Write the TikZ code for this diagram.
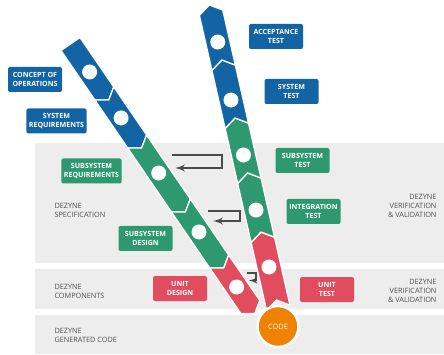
\documentclass[tikz,border=0pt]{standalone}
\usepackage{fontspec}
\setmainfont{Open Sans}
\usetikzlibrary{arrows,positioning}

\definecolor{vblue}{HTML}{1264A4}
\definecolor{vgreen}{HTML}{2E9871}
\definecolor{vred}{HTML}{E14D5F}
\definecolor{vorange}{HTML}{F08200}
\definecolor{bandgray}{HTML}{EDEDED}
\definecolor{textgray}{HTML}{505050}
\definecolor{arrowgray}{HTML}{4A4A4A}

\tikzset{
  box/.style={rounded corners=2pt, text=white, align=center,
    font=\bfseries\fontsize{7.1}{8.6}\selectfont,
    minimum width=54pt, minimum height=25pt, inner xsep=2.5pt},
  stage/.style={text=textgray, font=\fontsize{7.3}{9.2}\selectfont},
  seg/.style={draw=white, line width=1.3pt, line join=miter},
  dot/.style={circle, fill=white, minimum size=15pt, inner sep=0pt},
  fback/.style={->, >=latex', draw=arrowgray, line width=2.4pt}
}

\begin{document}
\begin{tikzpicture}[x=1pt,y=-1pt]
        \useasboundingbox (0,0) rectangle (444,355);
        % bands
        \fill[bandgray] (35,143) rectangle (444,263);
        \fill[bandgray] (35,269) rectangle (444,309);
        \fill[bandgray] (35,315) rectangle (444,354);

        \node[stage, anchor=west, align=left]  (spec)  at (51,210.5)  {DEZYNE\\SPECIFICATION};
        \node[stage, anchor=west, align=left]  (comp)  at (51,291.5)  {DEZYNE\\COMPONENTS};
        \node[stage, anchor=west, align=left]  (gen)   at (51,335.5)  {DEZYNE\\GENERATED CODE};
        \node[stage, anchor=east, align=right] (vv1)   at (440,206)   {DEZYNE\\VERIFICATION\\\& VALIDATION};
        \node[stage, anchor=east, align=right] (vv2)   at (440,291)   {DEZYNE\\VERIFICATION\\\& VALIDATION};

        % labels, left side
        \node[box, fill=vblue]  (conops)  at (35,79.5)   {CONCEPT OF\\OPERATIONS};
        \node[box, fill=vblue]  (sysreq)  at (56.5,121)  {SYSTEM\\REQUIREMENTS};
        \node[box, fill=vgreen] (subreq)  at (91.5,171)  {SUBSYSTEM\\REQUIREMENTS};
        \node[box, fill=vgreen] (subdes)  at (145.5,238.5) {SUBSYSTEM\\DESIGN};
        \node[box, fill=vred]   (unitdes) at (180,288.5) {UNIT\\DESIGN};
        % labels, right side
        \node[box, fill=vblue]  (acctest) at (276,36.5)  {ACCEPTANCE\\TEST};
        \node[box, fill=vblue]  (systest) at (291.5,91.5) {SYSTEM\\TEST};
        \node[box, fill=vgreen] (subtest) at (302.5,160.5) {SUBSYSTEM\\TEST};
        \node[box, fill=vgreen] (inttest) at (313.5,211.5) {INTEGRATION\\TEST};
        \node[box, fill=vred]   (unittest) at (327,289.5) {UNIT\\TEST};

        % left arm, going down
        \begin{scope}[shift={(70.5,44)}, rotate=-55.64]
          \fill[seg, fill=vblue]  (0,11.5) -- (59.8,11.5) -- (67.8,0) -- (59.8,-11.5) -- (0,-11.5) -- cycle;
          \fill[seg, fill=vblue]  (59.8,11.5) -- (118,11.5) -- (126,0) -- (118,-11.5) -- (59.8,-11.5) -- (67.8,0) -- cycle;
          \fill[seg, fill=vgreen] (118,11.5) -- (195.5,11.5) -- (203.5,0) -- (195.5,-11.5) -- (118,-11.5) -- (126,0) -- cycle;
          \fill[seg, fill=vgreen] (195.5,11.5) -- (263.4,11.5) -- (271.4,0) -- (263.4,-11.5) -- (195.5,-11.5) -- (203.5,0) -- cycle;
          \fill[seg, fill=vred]   (263.4,11.5) -- (318.5,11.5) -- (326.5,0) -- (318.5,-11.5) -- (263.4,-11.5) -- (271.4,0) -- cycle;
          \node[dot] (l1) at (33.9,0) {};
          \node[dot] (l2) at (89.6,0) {};
          \node[dot] (l3) at (156.3,0) {};
          \node[dot] (l4) at (227.7,0) {};
          \node[dot] (l5) at (294.4,0) {};
        \end{scope}

        % right arm, going up
        \begin{scope}[shift={(276.5,300)}, rotate=102.83]
          \fill[seg, fill=vred]   (-8,12) -- (61.7,12) -- (69.7,0) -- (61.7,-12) -- (-8,-12) -- (0,0) -- cycle;
          \fill[seg, fill=vgreen] (61.7,12) -- (122.3,12) -- (130.3,0) -- (122.3,-12) -- (61.7,-12) -- (69.7,0) -- cycle;
          \fill[seg, fill=vgreen] (122.3,12) -- (178.7,12) -- (186.7,0) -- (178.7,-12) -- (122.3,-12) -- (130.3,0) -- cycle;
          \fill[seg, fill=vblue]  (178.7,12) -- (238.2,12) -- (246.2,0) -- (238.2,-12) -- (178.7,-12) -- (186.7,0) -- cycle;
          \fill[seg, fill=vblue]  (238.2,12) -- (294.6,12) -- (302.6,0) -- (294.6,-12) -- (238.2,-12) -- (246.2,0) -- cycle;
          \node[dot] (r1) at (33.8,0) {};
          \node[dot] (r2) at (92.3,0) {};
          \node[dot] (r3) at (148.7,0) {};
          \node[dot] (r4) at (205.1,0) {};
          \node[dot] (r5) at (264.6,0) {};
        \end{scope}

        \node[circle, fill=vorange, draw=white, line width=2.5pt, minimum size=41pt,
              text=white, font=\fontsize{7.4}{8}\selectfont] (code) at (278,326.5) {CODE};

        % feedback loops
        \coordinate (fb1) at (172,155);
        \coordinate (fb1e) at (175,168);
        \coordinate (fb2) at (208,211);
        \coordinate (fb2e) at (213,221);
        \coordinate (fb3) at (247,273);
        \coordinate (fb3e) at (249,280.5);
        \draw[fback] (fb1) -- ++(50,0) |- (fb1e);
        \draw[fback] (fb2) -- ++(32,0) |- (fb2e);
        \draw[fback, line width=1.8pt] (fb3) -- ++(9,0) |- (fb3e);
    \end{tikzpicture}
\end{document}
